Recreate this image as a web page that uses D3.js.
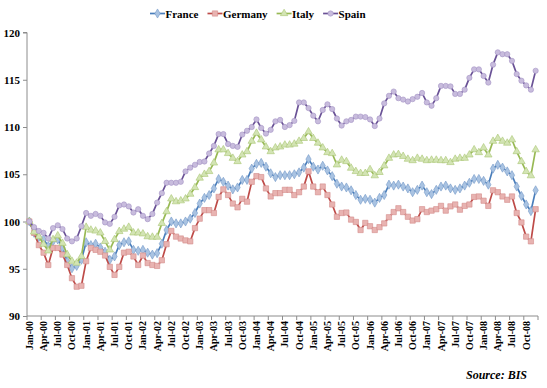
<!DOCTYPE html>
<html><head><meta charset="utf-8">
<script src="https://cdn.jsdelivr.net/npm/d3@7"></script>
<style>body{margin:0;background:#fff}svg{display:block}</style>
</head><body><svg id="c" width="547" height="388"></svg>
<script>
const months=["Jan","Feb","Mar","Apr","May","Jun","Jul","Aug","Sep","Oct","Nov","Dec"];
const years=["00","01","02","03","04","05","06","07","08"];
const categories=years.flatMap(y=>months.map(m=>m+"-"+y));
const seriesNames=["France","Germany","Italy","Spain"];
const yTicks=[90,95,100,105,110,115,120];

const france=[100,98.8,98.35,98.1,97.4,97.9,98.1,97.2,95.8,95.05,95.3,95.95,
97.8,97.5,97.65,97.25,96.8,95.95,96.3,97.5,97.8,97.9,97.0,96.9,
97.0,96.7,96.5,96.65,97.65,99.1,100.0,99.8,99.8,100.0,100.3,100.9,
101.9,102.5,102.8,103.5,104.5,104.2,103.8,103.4,103.6,104.4,104.4,105.6,
106.1,106.2,105.8,105.1,104.7,104.9,104.9,104.9,105.0,105.2,105.7,106.6,
105.8,105.5,105.9,105.4,104.8,104.0,103.7,103.6,103.3,102.8,102.3,102.4,
102.3,102.0,102.5,102.8,103.9,103.8,103.9,103.7,103.5,103.1,103.35,103.8,
103.1,102.9,103.35,103.7,103.8,103.5,103.35,103.5,103.8,104.1,104.5,104.5,
104.3,103.9,105.6,106.0,105.7,105.3,104.9,103.7,102.7,101.8,101.1,103.3];

const germany=[100,98.8,97.5,96.7,95.4,97.2,97.2,96.5,95.4,94.0,93.1,93.2,
95.8,97.2,97.0,96.8,96.4,95.2,94.35,95.2,96.7,96.8,96.3,95.4,
96.4,95.6,95.4,95.3,95.9,97.6,99.0,98.4,98.2,98.0,97.9,99.3,
100.3,101.2,101.2,100.9,102.6,103.4,102.8,101.9,101.5,102.4,102.1,104.2,
104.8,104.7,103.5,102.65,103.0,103.0,103.35,103.35,102.8,103.1,103.7,105.3,
103.7,103.1,103.7,102.8,101.8,100.5,100.9,100.95,100.2,99.95,99.1,99.85,
99.5,99.1,99.4,99.8,100.45,101.0,101.4,101.0,100.5,100.1,100.25,101.3,
101.0,101.15,101.3,101.65,101.15,101.6,101.8,101.25,101.65,101.8,102.6,102.65,
102.2,101.65,103.3,103.1,102.65,102.3,102.65,100.9,99.9,98.4,97.9,101.3];

const italy=[100,98.9,98.4,97.6,96.9,98.1,98.5,97.7,96.5,95.8,95.6,96.3,
99.4,99.1,99.0,98.8,97.9,97.0,98.1,98.95,99.2,99.4,98.8,98.8,
98.7,98.4,98.35,98.35,99.8,101.05,102.4,102.1,102.2,102.4,102.9,103.6,
104.6,105.0,105.3,106.2,107.6,107.6,107.2,106.7,106.35,107.05,107.4,108.5,
109.35,108.65,107.9,107.4,107.8,107.9,108.1,108.1,108.2,108.5,108.8,109.5,
108.8,108.3,107.8,107.3,107.2,106.0,106.5,106.35,105.65,105.3,105.1,105.1,
105.5,104.85,105.2,105.9,106.7,107.05,107.1,106.9,106.6,106.45,106.7,106.6,
106.45,106.5,106.5,106.45,106.45,106.25,106.6,106.7,106.7,107.05,107.6,107.3,
107.8,107.05,108.5,108.8,108.5,108.3,108.65,107.4,106.35,105.3,104.85,107.6];

const spain=[100,99.4,99.0,98.8,98.2,99.3,99.6,99.2,98.2,97.9,98.2,99.5,
100.9,100.6,100.8,100.6,99.9,99.75,100.5,101.7,101.8,101.6,100.95,101.3,
100.6,100.25,100.8,102.0,103.0,104.1,104.1,104.1,104.2,105.3,105.7,106.0,
106.3,106.35,107.2,108.0,109.25,109.25,108.2,108.0,107.9,109.2,109.6,110.0,
110.8,109.9,109.3,109.7,110.6,110.75,110.0,110.2,110.65,112.6,112.6,112.0,
111.2,110.6,111.8,112.4,111.9,110.9,110.15,110.6,110.75,111.1,111.1,111.05,
110.8,110.1,110.9,112.5,113.3,113.75,113.05,112.9,112.7,112.95,113.2,113.6,
112.6,112.25,113.05,114.35,114.35,114.3,113.5,113.5,113.95,115.2,116.1,116.1,
115.4,114.7,116.6,117.9,117.7,117.7,117.0,115.6,114.9,114.4,113.95,115.95];

const seriesValues=[france,germany,italy,spain];
const styles=[
 {line:"#4A7EBB",fill:"#A9C3E2",stroke:"#7399C8",sym:d3.symbolDiamond,size:24},
 {line:"#BE4B48",fill:"#E8B3B1",stroke:"#D48C89",sym:d3.symbolSquare,size:28},
 {line:"#98B954",fill:"#D3E4B4",stroke:"#AAC673",sym:d3.symbolTriangle,size:24},
 {line:"#6A5296",fill:"#C8BCDD",stroke:"#A493C4",sym:d3.symbolCircle,size:22}
];

const FONT='"Liberation Serif"';
const svg=d3.select("#c");
const x=d3.scaleBand().domain(categories).range([27,538]).padding(0);
const bw=x.bandwidth();
const cx=c=>x(c)+bw/2;
const y=d3.scaleLinear().domain([90,120]).range([316,32.5]);
const axisColor="#8C8C8C";
const txt=s=>s.style("font-family",FONT).style("font-weight","bold").attr("fill","#000");

// Y axis
const ya=svg.append("g").attr("transform","translate(27,0)")
 .call(d3.axisLeft(y).tickValues(yTicks).tickSize(4).tickPadding(3).tickFormat(d3.format("d")));
ya.select(".domain").attr("stroke",axisColor).attr("d",`M-4,${y(120)}H0V${y(90)}`);
ya.selectAll(".tick line").attr("stroke",axisColor);
txt(ya.selectAll(".tick text")).style("font-size","11px").attr("x",-7);

// X axis
const every3=categories.filter((c,i)=>i%3===0);
const xa=svg.append("g");
xa.append("line").attr("x1",27).attr("x2",538).attr("y1",316).attr("y2",316).attr("stroke",axisColor);
xa.selectAll("line.t").data(every3.concat([null])).join("line").attr("class","t")
 .attr("x1",d=>d===null?538:x(d)).attr("x2",d=>d===null?538:x(d))
 .attr("y1",316).attr("y2",320).attr("stroke",axisColor);
txt(xa.selectAll("text").data(every3).join("text"))
 .attr("transform",d=>`translate(${cx(d)+3.5},321) rotate(-90)`)
 .attr("text-anchor","end").style("font-size","10px")
 .text(d=>d);

// series
const lineGen=d3.line().x((d,i)=>cx(categories[i])).y(d=>y(d));
seriesValues.forEach((vals,k)=>{
 const st=styles[k];
 const g=svg.append("g");
 g.append("path").datum(vals).attr("d",lineGen).attr("fill","none").attr("stroke",st.line).attr("stroke-width",1.7);
 g.selectAll("path.m").data(vals).join("path").attr("class","m")
  .attr("transform",(d,i)=>`translate(${cx(categories[i])},${y(d)})`)
  .attr("d",d3.symbol().type(st.sym).size(st.size))
  .attr("fill",st.fill).attr("stroke",st.stroke).attr("stroke-width",0.6);
});

// legend
const lg=svg.append("g");
let lx=150;
seriesNames.forEach((n,k)=>{
 const st=styles[k];
 const it=lg.append("g").attr("transform",`translate(${lx},13.5)`);
 it.append("line").attr("x1",0).attr("x2",15).attr("stroke",st.line).attr("stroke-width",1.7);
 it.append("path").attr("transform","translate(7.5,0)").attr("d",d3.symbol().type(st.sym).size(st.size))
  .attr("fill",st.fill).attr("stroke",st.stroke).attr("stroke-width",0.6);
 const t=txt(it.append("text")).attr("x",15.5).attr("y",4).style("font-size","11px").text(n);
 lx+=15.5+t.node().getComputedTextLength()+9;
});

// source
txt(svg.append("text")).attr("x",527).attr("y",379).attr("text-anchor","end")
 .style("font-size","12px").style("font-style","italic").text("Source: BIS");
</script></body></html>
